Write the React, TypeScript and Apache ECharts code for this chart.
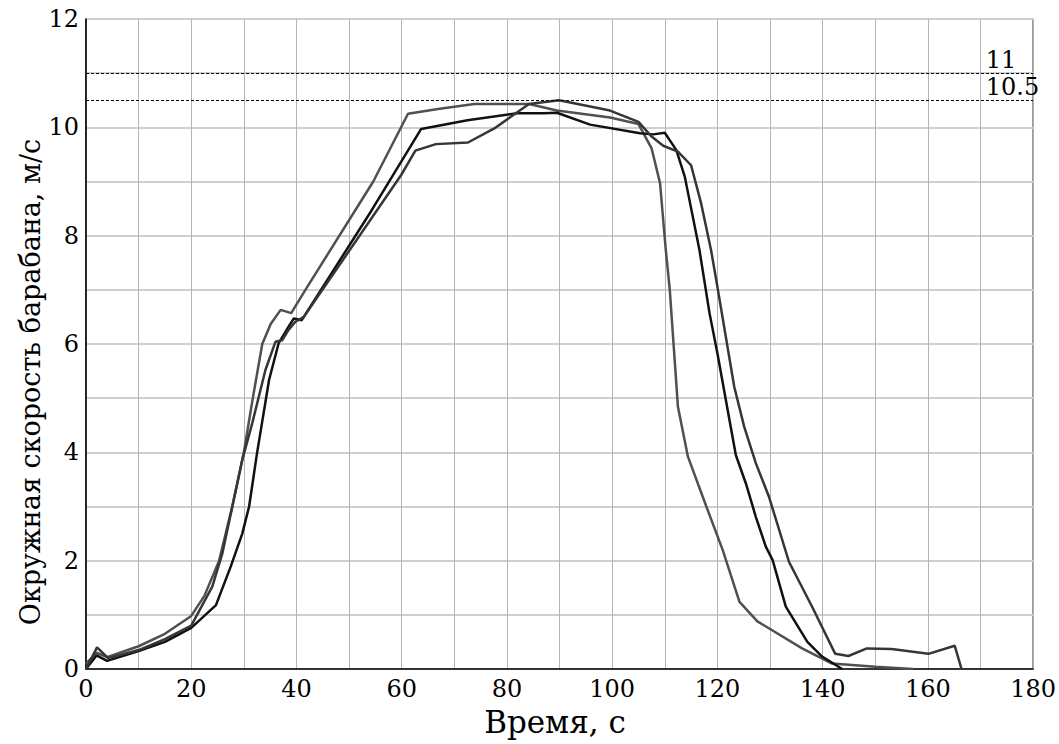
import React, { useEffect, useRef } from "react";
import * as echarts from "echarts";

// Окружная скорость барабана (м/с) во времени (с), три записи
const curveA: [number, number][] = [
  [0, 0.1], [2, 0.3], [4, 0.22], [10, 0.42], [15, 0.65], [20, 0.98], [22.5, 1.35],
  [25.3, 2.0], [27.8, 3.0], [30, 4.0], [31.7, 5.0], [33.5, 6.0], [35.1, 6.37],
  [37, 6.63], [39, 6.57], [41.7, 7.0], [54.6, 9.0], [61.2, 10.25], [66.9, 10.34],
  [73.8, 10.43], [84.2, 10.43], [89.5, 10.31], [99.6, 10.18], [105, 10.06],
  [107.5, 9.61], [109.1, 8.97], [110.2, 7.73], [110.95, 7.0], [112.5, 4.84],
  [114.4, 3.92], [117.9, 3.0], [121, 2.2], [124.2, 1.24], [127.6, 0.88],
  [136.1, 0.38], [141.8, 0.1], [150, 0.04], [157.2, 0],
];

const curveB: [number, number][] = [
  [0, 0], [2, 0.25], [4, 0.15], [10, 0.33], [15, 0.5], [20, 0.76], [24.7, 1.18],
  [27.5, 1.89], [29.7, 2.5], [31, 3.0], [32.5, 3.98], [34.8, 5.34], [36.6, 6.01],
  [38.5, 6.32], [39.5, 6.47], [41, 6.44], [54.3, 8.47], [63.7, 9.97], [72.5, 10.13],
  [82, 10.26], [87, 10.26], [89.5, 10.27], [95.8, 10.05], [105.3, 9.89],
  [107.8, 9.87], [110, 9.9], [112.2, 9.58], [113.8, 9.09], [116.6, 7.73],
  [118.5, 6.57], [120, 5.83], [121.6, 4.97], [123.5, 3.95], [125.4, 3.43],
  [127.3, 2.81], [129.2, 2.26], [130.5, 2.01], [133, 1.15], [137.1, 0.5],
  [139.9, 0.23], [143.7, 0],
];

const curveC: [number, number][] = [
  [0, 0], [2.1, 0.4], [4.2, 0.2], [10, 0.35], [15, 0.55], [20, 0.8], [24, 1.52],
  [25.9, 2.13], [29.7, 3.86], [31.6, 4.54], [34.1, 5.52], [36, 6.04], [37.3, 6.07],
  [38.5, 6.26], [39.8, 6.41], [41.4, 6.5], [59.9, 9.12], [62.6, 9.57], [66.5, 9.69],
  [72.6, 9.72], [77.6, 9.98], [84.2, 10.43], [89.9, 10.5], [99.6, 10.31], [105, 10.1],
  [107.5, 9.83], [109.7, 9.66], [112.5, 9.55], [115, 9.3], [116.9, 8.6],
  [118.8, 7.73], [120.1, 7.0], [123.2, 5.21], [125.1, 4.47], [127.3, 3.8],
  [129.8, 3.18], [133.6, 1.98], [138, 1.15], [142.4, 0.28], [144.9, 0.24],
  [148.4, 0.38], [153.1, 0.37], [160.1, 0.28], [165.1, 0.43], [166.4, 0],
];

const seriesNames = ["Запись 1", "Запись 2", "Запись 3"];
const seriesColors = ["#505050", "#111111", "#363636"];
const limitValues = [11, 10.5];
const limitLabels = ["11", "10.5"];
const limitLabelX = 171;
const xTitle = "Время, с";
const yTitle = "Окружная скорость барабана, м/с";

const FONT = "DejaVu Serif";

export default function App() {
  const ref = useRef<HTMLDivElement>(null);

  useEffect(() => {
    const chart = echarts.init(ref.current!, null, { renderer: "svg" });
    const series: any[] = [curveA, curveB, curveC].map((d, i) => ({
      name: seriesNames[i],
      type: "line",
      data: d,
      symbol: "none",
      smooth: false,
      lineStyle: { color: seriesColors[i], width: 2.5 },
      z: 3,
    }));
    series.push({
      name: "limits",
      type: "line",
      data: [],
      markLine: {
        silent: true,
        symbol: "none",
        label: { show: false },
        lineStyle: { color: "#000", width: 1, type: [3, 2] },
        data: limitValues.map((v) => ({ yAxis: v })),
      },
    });

    chart.setOption({
      animation: false,
      backgroundColor: "#ffffff",
      textStyle: { fontFamily: FONT },
      grid: {
        left: 86,
        right: 20,
        top: 19,
        bottom: 75,
        show: true,
        borderColor: "#000",
        borderWidth: 1,
        backgroundColor: "transparent",
      },
      xAxis: {
        type: "value",
        min: 0,
        max: 180,
        interval: 10,
        axisLine: { show: true, lineStyle: { color: "#000", width: 1.5 } },
        axisTick: { show: false },
        axisLabel: {
          formatter: (v: number) => (v % 20 === 0 ? String(v) : ""),
          fontFamily: FONT,
          fontSize: 24,
          color: "#000",
          margin: 8,
        },
        splitLine: { show: true, lineStyle: { color: "#b4b4b4", width: 1 } },
      },
      yAxis: {
        type: "value",
        min: 0,
        max: 12,
        interval: 1,
        axisLine: { show: true, lineStyle: { color: "#000", width: 1.5 } },
        axisTick: { show: false },
        axisLabel: {
          formatter: (v: number) => (v % 2 === 0 ? String(v) : ""),
          fontFamily: FONT,
          fontSize: 24,
          color: "#000",
          margin: 7,
          padding: [0, 0, 6, 0],
        },
        splitLine: { show: true, lineStyle: { color: "#cfcfcf", width: 2 } },
      },
      series,
    });

    const labels = limitValues.map((v, i) => {
      const p = chart.convertToPixel({ gridIndex: 0 }, [limitLabelX, v]) as number[];
      return {
        type: "text",
        x: p[0],
        y: p[1] - 1,
        style: {
          text: limitLabels[i],
          fontFamily: FONT,
          fontSize: 24,
          fill: "#000",
          align: "left",
          verticalAlign: "bottom",
        },
        z: 10,
      };
    });

    chart.setOption({
      graphic: [
        ...labels,
        {
          type: "text",
          x: 555,
          y: 722,
          style: {
            text: xTitle,
            fontFamily: FONT,
            fontSize: 31,
            fill: "#000",
            align: "center",
            verticalAlign: "middle",
          },
        },
        {
          type: "text",
          x: 30,
          y: 382,
          rotation: Math.PI / 2,
          style: {
            text: yTitle,
            fontFamily: FONT,
            fontSize: 27,
            fill: "#000",
            align: "center",
            verticalAlign: "middle",
          },
        },
      ],
    });

    return () => chart.dispose();
  }, []);

  return (
    <div
      ref={ref}
      style={{ position: "fixed", left: 0, top: 0, width: 1059, height: 744, background: "#fff" }}
    />
  );
}
